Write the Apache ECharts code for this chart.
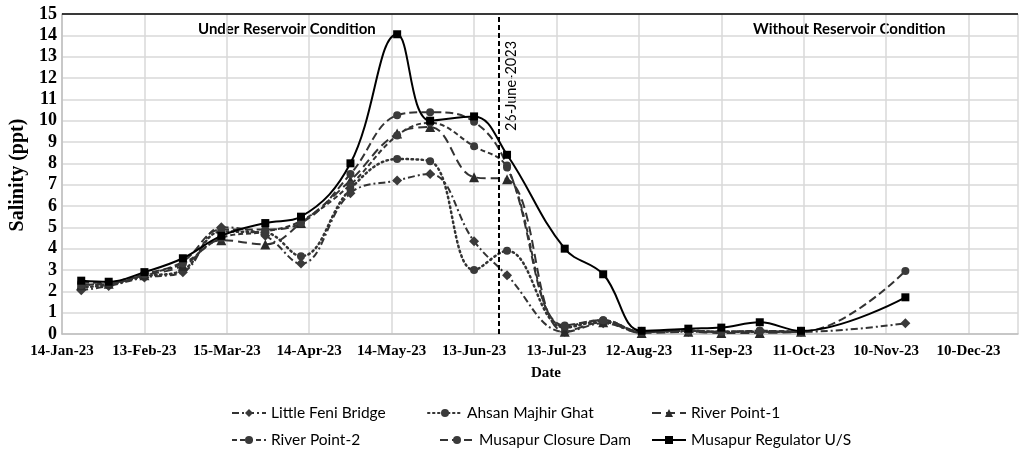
<!DOCTYPE html>
<html>
<head>
<meta charset="utf-8">
<script src="https://cdn.jsdelivr.net/npm/echarts@6/dist/echarts.min.js"></script>
<style>html,body{margin:0;padding:0;background:#fff}#c{width:1020px;height:454px}</style>
</head>
<body>
<div id="c"></div>
<script>
// ---------- data ----------
const dates = ['2023-01-21','2023-01-31','2023-02-13','2023-02-27','2023-03-13','2023-03-29','2023-04-11','2023-04-29','2023-05-16','2023-05-28','2023-06-13','2023-06-25','2023-07-16','2023-07-30','2023-08-13','2023-08-30','2023-09-11','2023-09-25','2023-10-10','2023-11-17'];
const littleFeniBridge   = [2.05,2.25,2.65,2.9,5.0,4.6,3.3,6.6,7.2,7.5,4.35,2.75,0.1,0.5,0.1,0.1,0.1,0.1,0.1,0.5];
const ahsanMajhirGhat    = [2.2,2.3,2.7,3.0,4.8,4.75,3.65,6.8,8.2,8.1,3.0,3.9,0.3,0.6,0.1,0.15,0.1,0.1,0.1,null];
const riverPoint1        = [2.3,2.35,2.75,3.2,4.4,4.2,5.2,7.2,9.4,9.7,7.35,7.25,0.1,0.55,0.05,0.1,0.05,0.05,0.1,null];
const riverPoint2        = [2.3,2.4,2.8,3.3,4.5,4.8,5.3,7.0,9.3,9.9,8.8,7.8,0.35,0.65,0.1,0.15,0.1,0.15,0.1,null];
const musapurClosureDam  = [2.4,2.4,2.8,3.4,4.9,4.9,5.2,7.5,10.25,10.4,9.95,7.9,0.4,0.65,0.1,0.15,0.1,0.15,0.1,2.95];
const musapurRegulatorUS = [2.5,2.45,2.9,3.55,4.6,5.2,5.5,8.0,14.05,10.0,10.2,8.4,4.0,2.8,0.15,0.25,0.3,0.55,0.15,1.72];
const seriesNames = ['Little Feni Bridge','Ahsan Majhir Ghat','River Point-1','River Point-2','Musapur Closure Dam','Musapur Regulator U/S'];
const axisStartDate = '2023-01-14';
const axisEndDate = '2023-12-28';
const refLineDate = '2023-06-22';
const refLineLabel = '26-June-2023';
const yTicks = [0,15,1];

// ---------- helpers ----------
const MS = 86400000, EXCEL0 = Date.UTC(1899,11,30);
function serial(s){const p=s.split('-').map(Number);return (Date.UTC(p[0],p[1]-1,p[2])-EXCEL0)/MS;}
const MON=['Jan','Feb','Mar','Apr','May','Jun','Jul','Aug','Sep','Oct','Nov','Dec'];
function fmt(v){const d=new Date(EXCEL0+Math.round(v)*MS);return d.getUTCDate()+'-'+MON[d.getUTCMonth()]+'-'+String(d.getUTCFullYear()).slice(2);}
const xs = dates.map(serial);
function pts(arr){return xs.map((x,i)=>[x,arr[i]]);}

const styles = [
  {data:littleFeniBridge,   symbol:'diamond',  size:10, type:[7,3,2,3], w:2, c:'#333', mc:'#3a3a3a'},
  {data:ahsanMajhirGhat,    symbol:'circle',   size:8,  type:[1.5,3.5], w:2.5, c:'#333', mc:'#3a3a3a', cap:'round'},
  {data:riverPoint1,        symbol:'triangle', size:10, type:[9,5], w:2, c:'#333', mc:'#2a2a2a'},
  {data:riverPoint2,        symbol:'circle',   size:8,  type:[5,3], w:2, c:'#333', mc:'#3a3a3a'},
  {data:musapurClosureDam,  symbol:'circle',   size:8,  type:[8,4], w:2, c:'#333', mc:'#3a3a3a'},
  {data:musapurRegulatorUS, symbol:'rect',     size:8,  type:'solid', w:2, c:'#000', mc:'#000'}
];

const series = styles.map((s,i)=>({
  name: seriesNames[i], type:'line', smooth:0.4, connectNulls:false,
  data: pts(s.data), symbol:s.symbol, symbolSize:s.size,
  lineStyle:{color:s.c, width:s.w, type:s.type, cap:s.cap||'butt'},
  itemStyle:{color:s.mc, borderWidth:0},
  z: i===5?5:3
}));
series[5].markLine = {
  silent:true, symbol:['none','none'], animation:false, label:{show:false},
  data:[
    {xAxis: serial(refLineDate), lineStyle:{color:'#000', width:2, type:[5,3]}},
    {yAxis: yTicks[1], lineStyle:{color:'#000', width:1.5, type:'solid'}}
  ]
};

const legendPos = [[226,400],[422,400],[646,400],[226,427],[434,427],[646,427]];
const legends = seriesNames.map((n,i)=>({
  data:[n], left:legendPos[i][0], top:legendPos[i][1], itemWidth:34, itemHeight:10, itemGap:0,
  textStyle:{fontFamily:'Lato', fontSize:15.5, color:'#000'}
}));

const chart = echarts.init(document.getElementById('c'), null, {renderer:'canvas'});
chart.setOption({
  animation:false,
  backgroundColor:'#fff',
  grid:{left:62, right:2, top:14, bottom:120},
  xAxis:{
    type:'value', min:serial(axisStartDate), max:serial(axisEndDate), interval:30,
    axisLine:{lineStyle:{color:'#bfbfbf', width:1.5}}, axisTick:{show:false},
    splitLine:{show:true, lineStyle:{color:'#d9d9d9', width:1.5}},
    axisLabel:{formatter:fmt, showMaxLabel:false, fontFamily:'Liberation Serif', fontWeight:'bold', fontSize:15, color:'#000', margin:10}
  },
  yAxis:{
    type:'value', min:yTicks[0], max:yTicks[1], interval:yTicks[2],
    axisLine:{show:true, lineStyle:{color:'#bfbfbf', width:1.5}}, axisTick:{show:false},
    splitLine:{lineStyle:{color:'#d9d9d9', width:1.5}},
    axisLabel:{fontFamily:'Liberation Serif', fontWeight:'bold', fontSize:18, color:'#000', margin:5}
  },
  legend: legends,
  series: series,
  graphic:[
    {type:'text', left:198, top:22, style:{text:'Under Reservoir Condition', font:'bold 15px Lato', fill:'#000'}},
    {type:'text', left:753, top:22, style:{text:'Without Reservoir Condition', font:'bold 15px Lato', fill:'#000'}},
    {type:'text', x:511, y:86, rotation:Math.PI/2, style:{text:refLineLabel, font:'14.5px Lato', fill:'#000', align:'center', verticalAlign:'middle'}},
    {type:'text', x:18, y:175, rotation:Math.PI/2, style:{text:'Salinity (ppt)', font:'bold 20px "Liberation Serif"', fill:'#000', align:'center', verticalAlign:'middle'}},
    {type:'text', x:546, y:373, style:{text:'Date', font:'bold 15px "Liberation Serif"', fill:'#000', align:'center', verticalAlign:'middle'}}
  ]
});
</script>
</body>
</html>
